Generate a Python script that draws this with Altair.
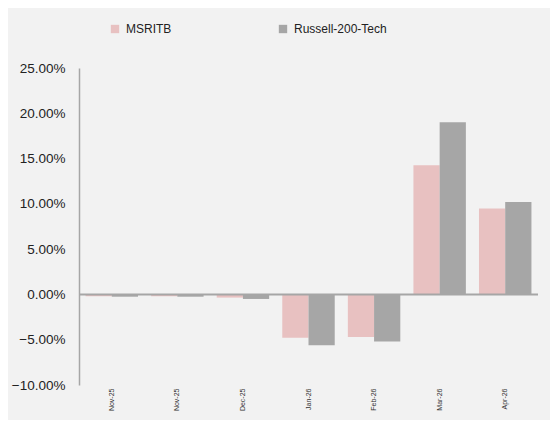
import altair as alt
import pandas as pd

labels = ["Nov-25", "Nov-25", "Dec-25", "Jan-26", "Feb-26", "Mar-26", "Apr-26"]
msritb = [-0.0020, -0.0020, -0.0035, -0.0478, -0.0470, 0.1427, 0.0950]
russell = [-0.0025, -0.0025, -0.0050, -0.0560, -0.0520, 0.1900, 0.1020]
series = ["MSRITB", "Russell-200-Tech"]
colors = ["#e8c1c1", "#a6a6a6"]

rows = []
for i, lab in enumerate(labels):
    rows.append({"idx": i, "series": series[0], "value": msritb[i]})
    rows.append({"idx": i, "series": series[1], "value": russell[i]})
df = pd.DataFrame(rows)

label_expr = "[" + ",".join(f"'{l}'" for l in labels) + "][datum.value]"

bars = alt.Chart(df).mark_bar().encode(
    x=alt.X("idx:O", title=None,
            scale=alt.Scale(paddingInner=0.2, paddingOuter=0.1),
            axis=alt.Axis(labelExpr=label_expr, labelAngle=270, labelFontSize=7,
                          labelColor="#333333", labelFont="Liberation Sans",
                          domain=False, ticks=False, labelPadding=3)),
    xOffset=alt.XOffset("series:N", sort=series),
    y=alt.Y("value:Q", title=None,
            scale=alt.Scale(domain=[-0.10, 0.25], nice=False),
            axis=alt.Axis(format=".2%", values=[-0.10, -0.05, 0, 0.05, 0.10, 0.15, 0.20, 0.25],
                          grid=False, ticks=False, domainColor="#a6a6a6", domainWidth=1.5,
                          labelFontSize=13.5, labelFont="Liberation Sans", labelColor="#222222",
                          labelPadding=14)),
    color=alt.Color("series:N", sort=series,
                    scale=alt.Scale(domain=series, range=colors),
                    legend=alt.Legend(title=None, orient="none", direction="horizontal",
                                      legendX=30, legendY=-45, symbolType="square",
                                      symbolSize=70, symbolStrokeWidth=0,
                                      labelFontSize=12, labelFont="Liberation Sans",
                                      labelColor="#222222", columnPadding=105,
                                      labelOffset=5)),
)

zero = alt.Chart(pd.DataFrame({"v": [0]})).mark_rule(color="#a6a6a6", strokeWidth=2).encode(
    y=alt.Y("v:Q")
)

chart = alt.layer(bars, zero).properties(
    width=459, height=317,
    autosize=alt.AutoSizeParams(type="none"),
    padding={"left": 71, "top": 60, "right": 12, "bottom": 35},
    background="#f2f2f2",
).configure_view(stroke=None)

chart.save("out.html", embed_options={"renderer": "svg", "actions": False})
